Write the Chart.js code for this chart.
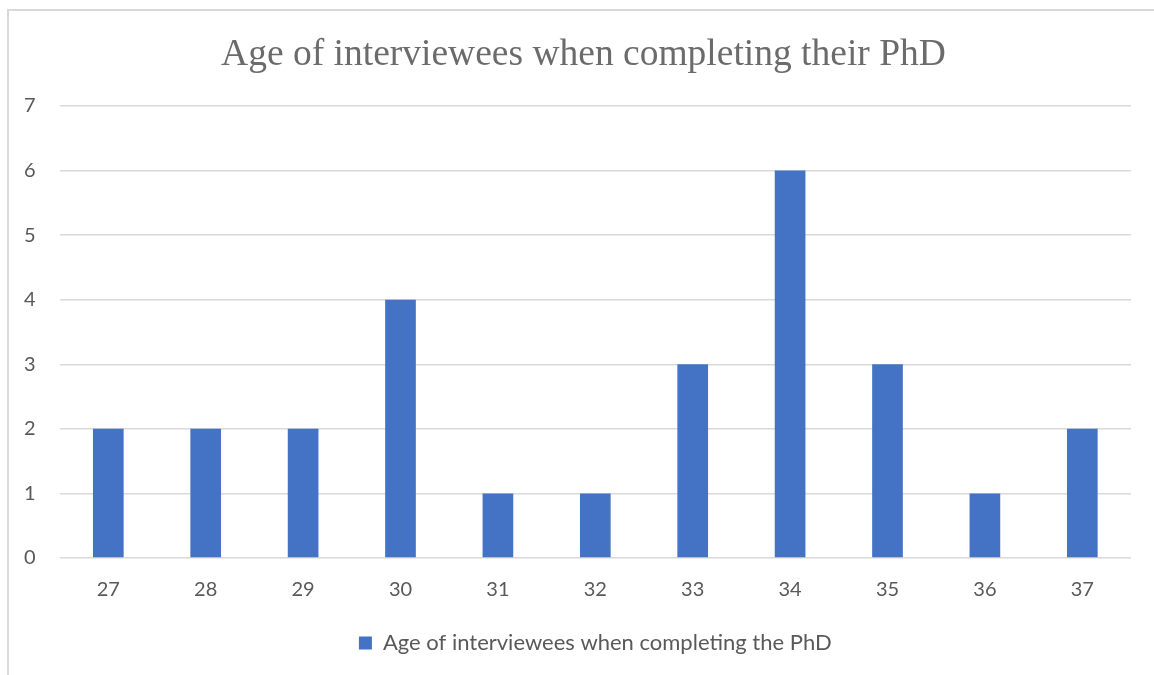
<!DOCTYPE html>
<html>
<head>
<meta charset="utf-8">
<script src="https://cdn.jsdelivr.net/npm/chart.js@4/dist/chart.umd.min.js"></script>
<style>
  body { margin: 0; background: #fff; }
  #frame { position: absolute; left: 7px; top: 9px; width: 1147px; height: 666px;
           border-left: 2px solid #d9d9d9; border-top: 2px solid #d9d9d9; }
  #wrap { position: absolute; left: 0; top: 0; width: 1154px; height: 675px; }
</style>
</head>
<body>
<div id="frame"></div>
<div id="wrap"><canvas id="chart"></canvas></div>
<script>
var ages = ['27', '28', '29', '30', '31', '32', '33', '34', '35', '36', '37'];
var counts = [2, 2, 2, 4, 1, 1, 3, 6, 3, 1, 2];
var yTicks = [0, 1, 2, 3, 4, 5, 6, 7];
var chartTitle = 'Age of interviewees when completing their PhD';
var seriesName = 'Age of interviewees when completing the PhD';

// title drawn by hand so it can sit where the original has it
var titlePlugin = {
    id: 'titleText',
    afterDraw: function(chart) {
        var ctx = chart.ctx;
        ctx.save();
        ctx.font = '37.5px "Liberation Serif", "Times New Roman", serif';
        ctx.fillStyle = '#6b6b6b';
        ctx.textAlign = 'center';
        ctx.textBaseline = 'alphabetic';
        ctx.fillText(chartTitle, 583.5, 65);
        ctx.restore();
    }
};

var ctx = document.getElementById('chart').getContext('2d');
new Chart(ctx, {
    type: 'bar',
    data: {
        labels: ages,
        datasets: [{
            label: seriesName,
            data: counts,
            backgroundColor: '#4472C4',
            categoryPercentage: 1,
            barPercentage: 0.315
        }]
    },
    plugins: [titlePlugin],
    options: {
        responsive: true,
        maintainAspectRatio: false,
        animation: false,
        layout: { padding: { left: 0, right: 23, top: 106, bottom: 11 } },
        plugins: {
            title: { display: false },
            tooltip: { enabled: false },
            legend: {
                position: 'bottom',
                fullSize: false,
                labels: {
                    boxWidth: 13,
                    boxHeight: 13,
                    padding: 10,
                    color: '#595959',
                    font: { family: 'Lato', size: 22 }
                }
            }
        },
        scales: {
            x: {
                grid: { display: false },
                border: { display: false },
                ticks: { color: '#595959', padding: 12, font: { family: 'Lato', size: 20 } },
                afterFit: function(scale) { scale.height = 64; }
            },
            y: {
                min: 0,
                max: 7,
                afterBuildTicks: function(scale) {
                    scale.ticks = yTicks.map(function(v) { return { value: v }; });
                },
                grid: { color: '#d9d9d9', lineWidth: 1.5, drawTicks: false },
                border: { display: false },
                ticks: { color: '#595959', padding: 24, font: { family: 'Lato', size: 20 } }
            }
        }
    }
});
</script>
</body>
</html>
